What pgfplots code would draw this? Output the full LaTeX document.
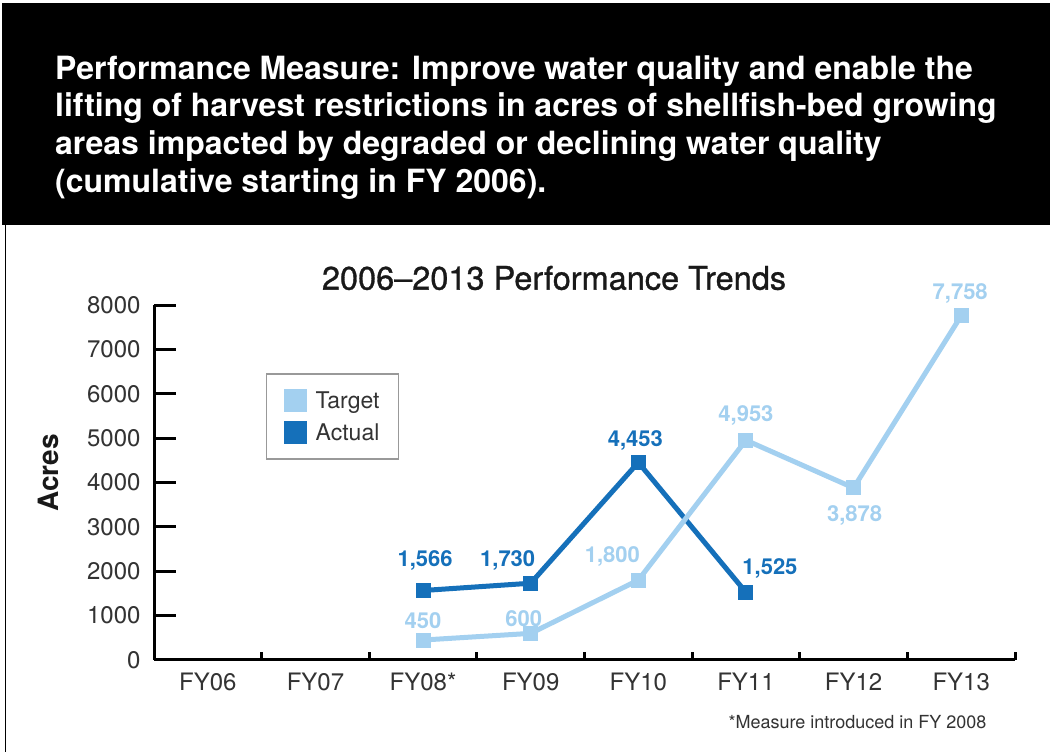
\documentclass[border=0pt]{standalone}
\usepackage{fontspec}
\setmainfont{TeX Gyre Heros}
\newfontfamily\titlefont[FakeBold=0.9]{TeX Gyre Heros}
\usepackage{pgfplots}
\pgfplotsset{compat=1.18}
\definecolor{tgt}{HTML}{A3D0F0}
\definecolor{act}{HTML}{1570BA}
\definecolor{txt}{HTML}{333333}
\begin{document}
\begin{tikzpicture}[x=1pt,y=1pt]
\useasboundingbox (0,0) rectangle (1050,752);
\fill[white] (0,0) rectangle (1050,752);
\fill[black] (2,527) rectangle (1050,749);
\draw[line width=1.5pt] (5.5,0) -- (5.5,527);
\begin{scope}[every node/.style={anchor=base west, text=white, inner sep=0pt, font=\bfseries\fontsize{32}{38}\selectfont}]
\node at (55,672) {Performance Measure: Improve water quality and enable the};
\node at (55,635) {lifting of harvest restrictions in acres of shellfish-bed growing};
\node at (55,597) {areas impacted by degraded or declining water quality};
\node at (55,559) {(cumulative starting in FY 2006).};
\end{scope}
\node[font=\titlefont\fontsize{32.5}{36}\selectfont, text=black!90] at (554,474) {2006–2013 Performance Trends};
\node[rotate=90, font=\bfseries\fontsize{28}{32}\selectfont, text=black!90] at (48,279) {Acres};
\node[anchor=east, font=\fontsize{18}{21}\selectfont, text=txt] at (990,30) {*Measure introduced in FY 2008};
\begin{axis}[
  at={(154pt,92pt)}, anchor=south west,
  scale only axis, width=861pt, height=355pt,
  xmin=0, xmax=8, ymin=0, ymax=8000,
  clip=false,
  axis x line*=bottom, axis y line*=left,
  axis line style={line width=3pt, draw=black, -},
  every outer x axis line/.append style={line width=3pt, draw=black},
  every outer y axis line/.append style={line width=3pt, draw=black},
  tick align=inside,
  xtick={0.5,1.5,2.5,3.5,4.5,5.5,6.5,7.5},
  xticklabels={FY06,FY07,FY08*,FY09,FY10,FY11,FY12,FY13},
  minor xtick={1,2,3,4,5,6,7,8},
  ytick={0,1000,2000,3000,4000,5000,6000,7000,8000},
  major tick length=22pt, minor tick length=8pt,
  tick style={draw=black, line width=3pt},
  xtick style={/pgfplots/major tick length=0pt, draw=black, line width=3pt},
  ytick style={draw=black, line width=3pt},
  minor tick style={draw=black, line width=3pt},
  /pgf/number format/assume math mode=true,
  /pgf/number format/1000 sep={},
  yticklabel style={font=\fontsize{24}{28}\selectfont, text=txt, xshift=-10pt},
  xticklabel style={font=\fontsize{24}{28}\selectfont, text=txt, yshift=-9pt},
  reverse legend,
  legend style={at={(0.130,0.808)}, anchor=north west, draw=gray!80, line width=1.5pt,
    font=\fontsize{23}{27}\selectfont, text=txt, inner xsep=17pt, inner ysep=15pt, row sep=9pt,
    /tikz/every odd column/.append style={column sep=7pt}},
  legend cell align=left,
  legend image code/.code={\fill (0pt,-9pt) rectangle (18pt,9pt);},
]
\addplot[color=act, line width=5pt, mark=square*, mark size=7pt, mark options={solid, line width=1pt}]
  coordinates {(2.5,1566) (3.5,1730) (4.5,4453) (5.5,1525)};
\addlegendentry{Actual}
\addplot[color=tgt, line width=5pt, mark=square*, mark size=7pt, mark options={solid, line width=1pt}]
  coordinates {(2.5,450) (3.5,600) (4.5,1800) (5.5,4953) (6.5,3878) (7.5,7758)};
\addlegendentry{Target}
\begin{scope}[every node/.style={font=\bfseries\fontsize{22}{26}\selectfont}]
\node[text=tgt, xshift=0pt, yshift=19pt] at (axis cs:2.5,450) {450};
\node[text=tgt, xshift=-7pt, yshift=15pt] at (axis cs:3.5,600) {600};
\node[text=tgt, xshift=-26pt, yshift=24pt] at (axis cs:4.5,1800) {1,800};
\node[text=tgt, xshift=0pt, yshift=25pt] at (axis cs:5.5,4953) {4,953};
\node[text=tgt, xshift=1pt, yshift=-28pt] at (axis cs:6.5,3878) {3,878};
\node[text=tgt, xshift=-1pt, yshift=22pt] at (axis cs:7.5,7758) {7,758};
\node[text=act, xshift=2pt, yshift=30pt] at (axis cs:2.5,1566) {1,566};
\node[text=act, xshift=-23pt, yshift=23pt] at (axis cs:3.5,1730) {1,730};
\node[text=act, xshift=-3pt, yshift=22pt] at (axis cs:4.5,4453) {4,453};
\node[text=act, xshift=24pt, yshift=24pt] at (axis cs:5.5,1525) {1,525};
\end{scope}
\end{axis}
\end{tikzpicture}
\end{document}
